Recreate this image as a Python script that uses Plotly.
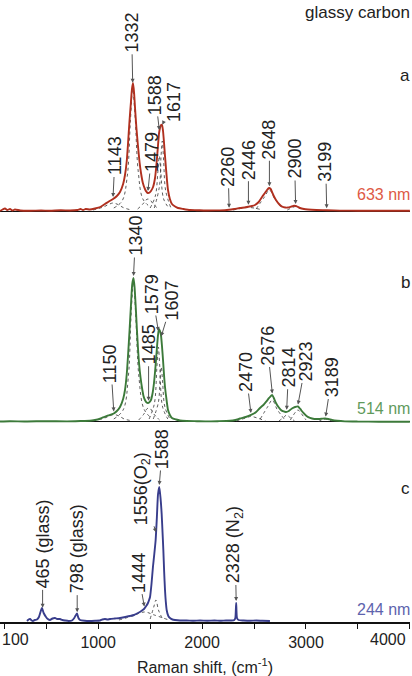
import numpy as np
import plotly.graph_objects as go

# ---------------- data (intensities in arbitrary units) -------------
# (a) 633 nm
a_x = [55, 80, 103, 125, 151, 175, 199, 250, 344, 450, 536, 640, 729, 800, 830, 854, 880, 920, 969,
       1020, 1065, 1110, 1143, 1180, 1210, 1240, 1258, 1275, 1287, 1300, 1316, 1325, 1335, 1345, 1354,
       1368, 1383, 1398, 1412, 1430, 1450, 1466, 1479, 1495, 1508, 1528, 1547, 1562, 1576, 1586, 1595,
       1605, 1614, 1624, 1633, 1643, 1653, 1662, 1672, 1690, 1710, 1740, 1768, 1820, 1884, 1950, 2038,
       2130, 2220, 2259, 2310, 2365, 2410, 2442, 2480, 2509, 2545, 2577, 2605, 2625, 2644, 2660, 2673,
       2690, 2711, 2740, 2769, 2800, 2827, 2860, 2885, 2900, 2915, 2942, 2980, 3019, 3100, 3202, 3327,
       3500, 3700, 3900, 4000]
a_y = [0, 1.5, 2.5, 1, 2, 0.5, 1.5, 0.5, 0.3, 0.5, 0.3, 0.8, 0.5, 1, 2, 1, 2, 1.5, 2.5,
       4, 7, 10, 12, 15, 19, 27, 36, 50, 67, 88, 110, 122, 128, 119, 104,
       83, 65, 49, 38, 28, 22, 19, 18, 18.5, 20, 24, 33, 48, 66, 78, 83,
       86, 86, 80, 69, 55, 42, 31, 21, 12, 7, 4.5, 3, 2, 1, 0.8, 0.5,
       0.6, 0.8, 1.2, 2, 3, 3.5, 4.2, 5, 6, 9, 14, 18, 21, 23, 22, 19,
       15, 11, 7, 4.5, 3.5, 3.5, 4.5, 5.2, 5, 4.5, 3, 2, 1.5, 1, 0.8, 0.4,
       0.3, 0.2, 0.2, 0.2]

# (b) 514 nm
b_x = [55, 150, 300, 500, 700, 850, 921, 969, 1010, 1046, 1100, 1150, 1180, 1210, 1240, 1258, 1275,
       1287, 1302, 1316, 1328, 1340, 1350, 1362, 1373, 1383, 1393, 1408, 1422, 1436, 1450, 1466, 1479,
       1490, 1508, 1522, 1537, 1552, 1566, 1576, 1585, 1595, 1604, 1614, 1624, 1633, 1643, 1658, 1672,
       1690, 1710, 1750, 1787, 1850, 1950, 2038, 2150, 2269, 2320, 2365, 2420, 2471, 2520, 2557, 2590,
       2615, 2645, 2673, 2690, 2711, 2735, 2759, 2785, 2807, 2835, 2865, 2895, 2923, 2945, 2971, 3005,
       3039, 3080, 3115, 3150, 3183, 3215, 3250, 3300, 3375, 3500, 3700, 4000]
b_y = [0.5, 0.8, 0.5, 0.8, 0.6, 1, 1.2, 2, 3, 4.5, 6.5, 8.5, 11, 15, 23, 32, 48,
       66, 92, 118, 138, 144, 135, 114, 92, 74, 59, 44, 34, 26, 22, 19.5, 19,
       19.5, 22, 28, 39, 56, 75, 87, 93, 91, 87, 76, 62, 48, 35, 22, 12,
       7, 4, 2.5, 1.5, 1, 0.8, 0.6, 0.8, 1.2, 2, 3.5, 5, 7, 10, 14, 17,
       20, 24, 27, 24, 19, 15, 12, 10.5, 10, 11, 13.5, 15, 15.5, 13, 9.5, 6,
       4, 3, 3, 3.2, 3.5, 3, 2, 1.2, 0.6, 0.4, 0.3, 0.3]

# (c) 244 nm
c_x = [315, 330, 344, 360, 372, 390, 411, 430, 445, 459, 475, 498, 515, 536, 560, 584, 605, 632, 655,
       681, 715, 748, 770, 783, 796, 810, 825, 870, 921, 970, 1017, 1040, 1065, 1090, 1114, 1160, 1210,
       1260, 1306, 1345, 1383, 1415, 1441, 1462, 1479, 1490, 1499, 1513, 1527, 1540, 1553, 1565, 1576,
       1588, 1600, 1611, 1620, 1627, 1635, 1643, 1651, 1659, 1675, 1691, 1715, 1739, 1787, 1850, 1920,
       1980, 2050, 2120, 2172, 2230, 2280, 2310, 2320, 2328, 2336, 2350, 2400, 2461, 2520, 2580, 2653]
c_y = [1, 2.5, 3, 1.5, 1, 2, 2.5, 5, 10, 14, 9, 5, 3, 2, 3.5, 4, 3, 3, 2,
       1.5, 1, 1.5, 4, 6.5, 8.5, 4, 2, 1.2, 1, 1.2, 1.5, 2.5, 3, 2.5, 3, 3.5, 4,
       5, 6, 7, 9, 11, 13, 16, 19, 22, 25, 38, 55, 68, 82, 105, 128,
       135, 124, 108, 88, 72, 50, 32, 20, 12, 6, 4, 2.5, 2, 1.5, 1.5, 1.2,
       1.5, 1.2, 1.5, 1.2, 1.5, 1.5, 2, 4, 19, 4, 2, 1.5, 1.2, 1.5, 1.2, 1]

# fitted component bands (dashed), per panel: (x list, y list)
a_bands = [
    ([950, 1050, 1100, 1143, 1190, 1240, 1300], [1, 4, 6.5, 8, 6.5, 3.5, 1.5]),
    ([1150, 1230, 1280, 1310, 1332, 1355, 1385, 1430, 1500], [3, 10, 35, 90, 122, 95, 40, 12, 4]),
    ([1380, 1430, 1460, 1479, 1500, 1530, 1580], [2, 7, 11, 12, 11, 7, 2]),
    ([1500, 1550, 1575, 1588, 1602, 1630, 1680], [3, 15, 40, 55, 40, 12, 3]),
    ([1540, 1590, 1605, 1617, 1630, 1650, 1700], [3, 25, 55, 70, 50, 20, 3]),
    ([2300, 2400, 2446, 2500, 2580], [1, 3, 3.5, 3, 1]),
    ([2520, 2600, 2648, 2700, 2780], [2, 14, 21, 12, 2]),
    ([2820, 2870, 2900, 2930, 2980], [1, 3.5, 4.5, 3.5, 1]),
]
b_bands = [
    ([950, 1050, 1110, 1150, 1200, 1250, 1310], [1, 3.5, 6, 7.5, 6, 3, 1.5]),
    ([1150, 1240, 1290, 1318, 1340, 1362, 1392, 1440, 1510], [3, 12, 45, 110, 140, 105, 45, 13, 4]),
    ([1390, 1440, 1468, 1485, 1505, 1535, 1590], [2, 8, 13, 14, 13, 8, 2]),
    ([1490, 1540, 1565, 1579, 1593, 1620, 1670], [3, 18, 55, 75, 55, 15, 3]),
    ([1530, 1580, 1596, 1607, 1620, 1642, 1690], [3, 20, 45, 55, 40, 15, 3]),
    ([2330, 2420, 2470, 2530, 2610], [1, 4, 5.5, 4, 1]),
    ([2560, 2630, 2676, 2720, 2790], [3, 15, 22, 13, 3]),
    ([2740, 2790, 2814, 2840, 2890], [1, 5, 7, 5, 1]),
    ([2850, 2900, 2923, 2950, 3000], [2, 10, 12, 9, 2]),
    ([3120, 3170, 3189, 3210, 3260], [0.5, 2.5, 3, 2.5, 0.5]),
]
c_bands = [
    ([1200, 1330, 1444, 1540, 1680], [2, 6, 10, 7, 2]),
    ([1500, 1535, 1556, 1580, 1620], [3, 15, 22, 12, 3]),
]

# peak labels
a_peaks = [1143, 1332, 1479, 1588, 1617, 2260, 2446, 2648, 2900, 3199]
a_labels = [str(p) for p in a_peaks]
b_peaks = [1150, 1340, 1485, 1579, 1607, 2470, 2676, 2814, 2923, 3189]
b_labels = [str(p) for p in b_peaks]
c_peaks = [465, 798, 1444, 1556, 1588, 2328]
c_labels = ["465 (glass)", "798 (glass)", "1444", "1556(O<sub>2</sub>)", "1588", "2328 (N<sub>2</sub>)"]

# x-axis ticks
major_ticks = [1000, 2000, 3000]
major_text = ["1000", "2000", "3000"]
minor_ticks = [100, 500, 1500, 2500, 3500, 4000]
edge_tick_labels = ["100", "4000"]   # end labels, drawn inside the plot edges

# ---------------- styling / layout (pixel offsets of labels relative to arrow tip) ---------
a_off = [(2, -41), (-1, -50), (4, -39), (-4, -35), (11, -23), (-1, -41), (0, -45), (0, -47), (-1, -45), (-1, -46)]
b_off = [(-3, -48), (2, -40), (0, -56), (-6, -37), (11, -36), (-5, -41), (-5, -48), (2, -42), (8, -43), (6, -39)]
c_off = [(0, -64), (0, -63), (-6, -34), (-14, -44), (3, -36), (-1, -56)]

FONT = "Arial, Liberation Sans, sans-serif"
panels = [
    dict(x=a_x, y=a_y, bands=a_bands, peaks=a_peaks, labels=a_labels, off=a_off,
         color="#b0301f", lab="633 nm", labcol="#de5a45", letter="a", yax="y", rng=[-10, 211],
         dom=[0.6447, 1.0], zero=True, lab_y=0.6865, let_y=0.8794),
    dict(x=b_x, y=b_y, bands=b_bands, peaks=b_peaks, labels=b_labels, off=b_off,
         color="#3c7a3a", lab="514 nm", labcol="#5f9a5c", letter="b", yax="y2", rng=[-10, 201],
         dom=[0.3055, 0.6447], zero=True, lab_y=0.344, let_y=0.5466),
    dict(x=c_x, y=c_y, bands=c_bands, peaks=c_peaks, labels=c_labels, off=c_off,
         color="#383d8c", lab="244 nm", labcol="#5d63ad", letter="c", yax="y3", rng=[0, 190],
         dom=[0.0, 0.3055], zero=False, lab_y=0.0193, let_y=0.2154),
]

fig = go.Figure()
annotations = []
for p in panels:
    for bx, by in p["bands"]:
        fig.add_trace(go.Scatter(x=bx, y=by, mode="lines", yaxis=p["yax"], xaxis="x",
                                 line=dict(color="#333333", width=0.8, dash="dot", shape="spline"),
                                 hoverinfo="skip", showlegend=False))
    fig.add_trace(go.Scatter(x=p["x"], y=p["y"], mode="lines", yaxis=p["yax"], xaxis="x",
                             line=dict(color=p["color"], width=1.9, shape="spline", smoothing=0.6),
                             showlegend=False))
    for pk, lb, (ox, oy) in zip(p["peaks"], p["labels"], p["off"]):
        tip = float(np.interp(pk, p["x"], p["y"])) + 2
        annotations.append(dict(x=pk, y=tip, xref="x", yref=p["yax"], text=lb, textangle=-90,
                                showarrow=True, ax=ox, ay=oy, arrowhead=2, arrowsize=0.8,
                                arrowwidth=1, arrowcolor="#555555", standoff=0,
                                font=dict(family=FONT, size=18, color="#222222")))
    annotations.append(dict(x=1.005, y=p["lab_y"], xref="paper", yref="paper", text=p["lab"],
                            showarrow=False, xanchor="right", yanchor="middle",
                            font=dict(family=FONT, size=16, color=p["labcol"])))
    annotations.append(dict(x=0.988, y=p["let_y"], xref="paper", yref="paper", text=p["letter"],
                            showarrow=False, xanchor="center", yanchor="middle",
                            font=dict(family=FONT, size=17, color="#222222")))

annotations.append(dict(x=1.006, y=0.9807, xref="paper", yref="paper", text="glassy carbon",
                        showarrow=False, xanchor="right", yanchor="middle",
                        font=dict(family=FONT, size=17, color="#222222")))
for txt, xp, anc in zip(edge_tick_labels, [0.0, 0.996], ["left", "right"]):
    annotations.append(dict(x=xp, y=-0.0289, xref="paper", yref="paper", text=txt,
                            showarrow=False, xanchor=anc, yanchor="middle",
                            font=dict(family=FONT, size=16, color="#222222")))

layout = dict(
    width=412, height=676, margin=dict(l=0, r=2, t=0, b=54),
    paper_bgcolor="white", plot_bgcolor="white",
    annotations=annotations,
    xaxis=dict(range=[55, 4001], anchor="y3", showgrid=False, zeroline=False,
               showline=True, linecolor="#111111", linewidth=1.5,
               ticks="outside", ticklen=5, tickwidth=1, tickcolor="#111111",
               tickvals=major_ticks, ticktext=major_text,
               minor=dict(tickvals=minor_ticks, ticks="outside", ticklen=5, tickwidth=1,
                          tickcolor="#111111", showgrid=False),
               tickfont=dict(family=FONT, size=16, color="#222222"),
               title=dict(text="Raman shift, (cm<sup>-1</sup>)", standoff=15,
                          font=dict(family=FONT, size=16, color="#222222"))),
)
for i, p in enumerate(panels):
    key = "yaxis" if i == 0 else f"yaxis{i+1}"
    layout[key] = dict(domain=p["dom"], range=p["rng"], anchor="x", showgrid=False,
                       showticklabels=False, ticks="", showline=False,
                       zeroline=p["zero"], zerolinecolor="#111111", zerolinewidth=1.2)
fig.update_layout(**layout)
fig.write_html("out.html", config={"displayModeBar": False},
               post_script="document.body.style.margin='0px';")
